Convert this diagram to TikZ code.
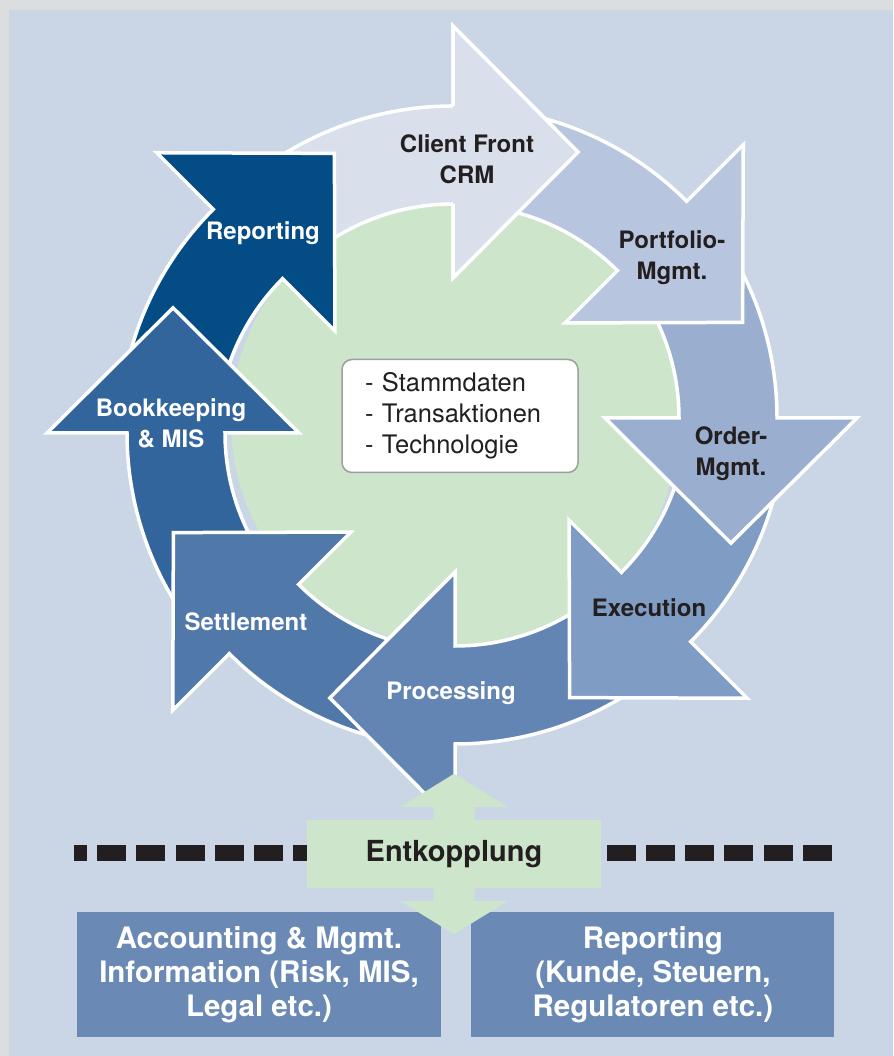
\documentclass[tikz,border=0pt]{standalone}
\usepackage{fontspec}
\setmainfont{TeX Gyre Heros}
\usepackage{tikz}
\usetikzlibrary{positioning}
\definecolor{framegray}{RGB}{220, 221, 223}
\definecolor{paleblue}{RGB}{202, 214, 230}
\definecolor{inkdark}{RGB}{35, 31, 32}
\definecolor{corecolor}{RGB}{205, 230, 203}
\definecolor{boxblue}{RGB}{106, 138, 181}
\definecolor{cfcol}{RGB}{217, 224, 236}
\definecolor{pmcol}{RGB}{184, 197, 222}
\definecolor{omcol}{RGB}{154, 175, 208}
\definecolor{excol}{RGB}{127, 156, 196}
\definecolor{prcol}{RGB}{99, 133, 179}
\definecolor{secol}{RGB}{80, 121, 170}
\definecolor{bkcol}{RGB}{50, 101, 155}
\definecolor{rpcol}{RGB}{3, 76, 133}
\tikzset{
    segment/.style={draw=white, line width=3.5pt, line join=miter},
    seglabel/.style={font=\bfseries\fontsize{24}{31}\selectfont, align=center},
    infobox/.style={fill=boxblue, text=white, minimum height=125pt, inner sep=0pt,
        font=\bfseries\fontsize{29.5}{34}\selectfont, align=center},
    cutline/.style={draw=inkdark, line width=16pt, dash pattern=on 29pt off 10.2pt, dash phase=16pt}
}

\begin{document}
\begin{tikzpicture}[x=1pt, y=1pt]
    \useasboundingbox (0,0) rectangle (893,1056);
    \fill[framegray] (0,0) rectangle (893,1056);
    \fill[paleblue] (9,0) rectangle (893,1046);

    \begin{scope}[shift={(455,634)}]
        \fill[corecolor] (0,0) circle[radius=224];
        \foreach \a/\c/\dx/\dy in {90/cfcol/-2/-6, 135/rpcol/-14/-15, 180/bkcol/-6/-11, -135/secol/2/-4,
                -90/prcol/0/0, -45/excol/8/8, 0/omcol/0/4, 45/pmcol/4/-7} {
            \pgfmathsetmacro\s{\a+42}
            \pgfmathsetmacro\t{\a-24.4}
            \filldraw[segment, fill=\c, shift={(\dx,\dy)}] (\s:224) arc[start angle=\s, end angle=\a, radius=224]
                -- (\a:150) -- (\t:303) -- (\a:402) -- (\a:322)
                arc[start angle=\a, end angle=\s, radius=322] -- cycle;
        }
        \fill[cfcol, shift={(-2,-6)}] (90:224) -- (90:150) -- (65.6:303) -- (90:402) -- (90:322) -- cycle;
        \draw[segment, shift={(-2,-6)}] (90:224) -- (90:150) -- (65.6:303) -- (90:402) -- (90:322);
    \end{scope}

    \node[seglabel, text=inkdark] (cf) at (467,897) {Client Front\\CRM};
    \node[seglabel, text=inkdark] (pm) at (672,798) {Portfolio-\\Mgmt.};
    \node[seglabel, text=inkdark] (om) at (731,602) {Order-\\Mgmt.};
    \node[seglabel, text=inkdark] (ex) at (649,448) {Execution};
    \node[seglabel, text=white] (pr) at (451,363) {Processing};
    \node[seglabel, text=white] (se) at (246,434) {Settlement};
    \node[seglabel, text=white] (bk) at (171,633) {Bookkeeping\\\& MIS};
    \node[seglabel, text=white] (rp) at (263,823) {Reporting};

    \node[fill=white, draw=black!38, line width=1.5pt, rounded corners=10pt, text width=190pt,
        inner xsep=23pt, minimum height=113pt, align=left, text=inkdark,
        font=\fontsize{25.5}{31}\selectfont] (core) at (460,640)
        {- Stammdaten\\- Transaktionen\\- Technologie};

    \node[infobox, minimum width=364pt] (acct) at (259,81.5)
        {Accounting \& Mgmt.\\Information (Risk, MIS,\\Legal etc.)};
    \node[infobox, minimum width=363pt, right=30pt of acct] (rept)
        {Reporting\\(Kunde, Steuern,\\Regulatoren etc.)};

    \coordinate (cutL) at (74,203);
    \coordinate (cutR) at (833,203);
    \draw[cutline] (cutL) -- (cutR);

    \node[fill=corecolor, minimum width=294pt, minimum height=68pt, text=inkdark,
        font=\bfseries\fontsize{29}{34}\selectfont] (ent) at (454,202) {Entkopplung};
    \fill[corecolor] ([xshift=-20.5pt]ent.north) -- ++(0,13) -- ++(-33,0) -- ++(53.5,33)
        -- ++(53.5,-33) -- ++(-33,0) -- ([xshift=20.5pt]ent.north) -- cycle;
    \fill[corecolor] ([xshift=-20.5pt]ent.south) -- ++(0,-13) -- ++(-33,0) -- ++(53.5,-33)
        -- ++(53.5,33) -- ++(-33,0) -- ([xshift=20.5pt]ent.south) -- cycle;
\end{tikzpicture}
\end{document}
